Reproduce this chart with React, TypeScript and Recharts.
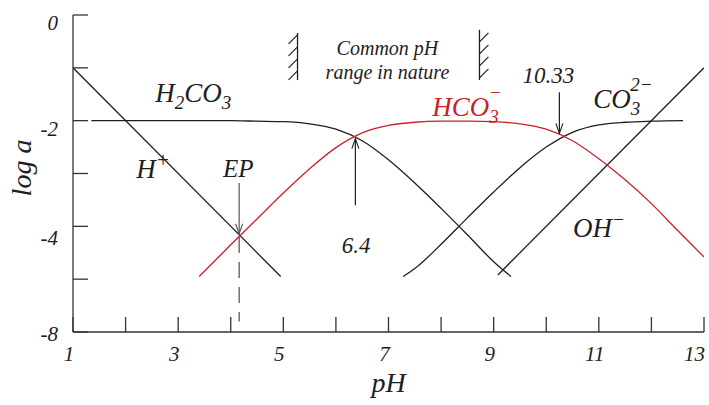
import React from 'react'
import { LineChart, Line, XAxis, YAxis, ReferenceLine, ReferenceDot } from 'recharts'

// Diagrama log a – pH del sistema carbonatado (CT = 10^-2).
// Curvas; los textos van anclados en coordenadas de datos.

const FONT = '"Liberation Serif", "DejaVu Serif", serif'
const INK = '#1e1e1e'
const GREY = '#5a5a5a'
const RED = '#cc1f2a'

// H+ y OH− son rectas
const hPh = [1, 4.95]
const hLog = [-1, -4.95]
const ohPh = [9.08, 13]
const ohLog = [-4.92, -1]

const h2co3Ph = [1.35, 2, 3, 4, 4.5, 5, 5.5, 6, 6.5, 7, 7.5, 8, 8.5, 9, 9.33]
const h2co3Log = [-2.0, -2.0, -2.0, -2.0, -2.01, -2.02, -2.06, -2.16, -2.38, -2.74, -3.18, -3.66, -4.16, -4.67, -4.95]

const hco3Ph = [3.4, 4, 4.5, 5, 5.5, 6, 6.5, 7, 7.5, 8, 8.5, 9, 9.5, 10, 10.5, 11, 11.5, 12, 12.5, 13]
const hco3Log = [-4.95, -4.35, -3.86, -3.37, -2.91, -2.51, -2.23, -2.09, -2.03, -2.01, -2.01, -2.02, -2.06, -2.16, -2.38, -2.72, -3.12, -3.57, -4.08, -4.58]

const co3Ph = [7.28, 7.5, 8, 8.5, 9, 9.5, 10, 10.5, 11, 11.5, 12, 12.6]
const co3Log = [-4.95, -4.8, -4.34, -3.84, -3.35, -2.89, -2.5, -2.22, -2.08, -2.03, -2.01, -2.0]

const xTicks = [1, 2, 3, 4, 5, 6, 7, 8, 9, 10, 11, 12, 13]
const xLabelled = [1, 3, 5, 7, 9, 11, 13]
const yTicks = [0, -1, -2, -3, -4, -5, -6]
// el original rotula el borde inferior como "-8"
const yTickText = ['0', '', '-2', '', '-4', '', '-8']
// desplazamiento vertical de cada rótulo, como en el original
const yTickDy = [15, 0, 15, 0, 19, 0, 9]

const pts = (ph: number[], v: number[]) => ph.map((x, i) => ({ ph: x, v: v[i] }))

const txt = { fontFamily: FONT, fontStyle: 'italic' as const, fill: INK }

function XTick({ x, y, payload }: any) {
  const v = payload.value
  if (!xLabelled.includes(v)) return <g />
  const last = v === 13
  return (
    <text x={last ? x + 1 : x - 4} y={y} dy="0.71em" textAnchor={last ? 'end' : 'middle'} fontSize={21} {...txt}>{v}</text>
  )
}

function YTick({ x, y, payload }: any) {
  const i = yTicks.indexOf(payload.value)
  const s = yTickText[i]
  if (!s) return <g />
  return <text x={x} y={y} dy={yTickDy[i]} textAnchor="end" fontSize={21} {...txt}>{s}</text>
}

function arrow(color: string) {
  return (p: any) => {
    const { x1, y1, x2, y2 } = p
    const d = Math.sign(y2 - y1)
    return (
      <g>
        <line x1={x1} y1={y1} x2={x2} y2={y2} stroke={color} strokeWidth={1.2} />
        <path d={`M${x2 - 3.5},${y2 - d * 10} L${x2},${y2} L${x2 + 3.5},${y2 - d * 10}`} fill="none" stroke={color} strokeWidth={1.1} />
      </g>
    )
  }
}

function bracket(side: number) {
  return (p: any) => {
    const { x1, y1, y2 } = p
    const top = Math.min(y1, y2)
    const bot = Math.max(y1, y2)
    const marks = [0, 1, 2, 3].map(i => {
      const y = side < 0 ? top + 2 + i * 12 : top + 12 + i * 12
      return <line key={i} x1={x1} y1={y} x2={x1 + side * 9} y2={y + (side < 0 ? 9 : -9)} stroke={INK} strokeWidth={1.1} />
    })
    return (
      <g>
        <line x1={x1} y1={top} x2={x1} y2={bot} stroke={INK} strokeWidth={1.3} />
        {marks}
      </g>
    )
  }
}

const label = (render: (x: number, y: number) => React.ReactNode) => (p: any) => <g>{render(p.cx, p.cy)}</g>

export default function App() {
  return (
    <div style={{ position: 'fixed', left: 0, top: 0, background: '#fff' }}>
      <LineChart width={709} height={405} margin={{ top: 15, right: 5, bottom: 33, left: 13 }}>
        <XAxis dataKey="ph" type="number" domain={[1, 13]} allowDataOverflow ticks={xTicks} interval={0}
          height={40} tickSize={-15} tickMargin={29} stroke="#333" strokeWidth={1.3}
          tickLine={{ stroke: '#333' }} tick={<XTick />}
          label={{ content: (p: any) => {
            const vb = p.viewBox
            return <text x={vb.x + vb.width / 2} y={vb.y + 60} textAnchor="middle" fontSize={28} {...txt}>pH</text>
          } }} />
        <XAxis xAxisId="top" orientation="top" dataKey="ph" type="number" domain={[1, 13]} allowDataOverflow
          ticks={[2, 3, 4, 5, 6, 7, 8, 9, 10, 11, 12]} interval={0} height={0} tickSize={-15}
          stroke="#333" strokeWidth={1.3} tick={false} />
        <YAxis type="number" domain={[-6, 0]} allowDataOverflow ticks={yTicks} interval={0} width={60}
          tickSize={-15} tickMargin={30} stroke="#333" strokeWidth={1.3} tick={<YTick />}
          label={{ content: () => {
            const cx = 31
            const cy = 168
            return <text x={cx} y={cy} textAnchor="middle" transform={`rotate(-90 ${cx} ${cy})`} fontSize={28} {...txt}>log a</text>
          } }} />
        <YAxis yAxisId="r" orientation="right" type="number" domain={[-6, 0]} allowDataOverflow ticks={yTicks}
          interval={0} width={0} tickSize={-15} stroke="#333" strokeWidth={1.3} tick={false} />

        <Line data={pts(hPh, hLog)} dataKey="v" type="linear" stroke={INK} strokeWidth={1.3} dot={false} isAnimationActive={false} />
        <Line data={pts(ohPh, ohLog)} dataKey="v" type="linear" stroke={INK} strokeWidth={1.3} dot={false} isAnimationActive={false} />
        <Line data={pts(h2co3Ph, h2co3Log)} dataKey="v" type="monotone" stroke={INK} strokeWidth={1.3} dot={false} isAnimationActive={false} />
        <Line data={pts(co3Ph, co3Log)} dataKey="v" type="monotone" stroke={INK} strokeWidth={1.3} dot={false} isAnimationActive={false} />
        <Line data={pts(hco3Ph, hco3Log)} dataKey="v" type="monotone" stroke={RED} strokeWidth={1.3} dot={false} isAnimationActive={false} />

        {/* flechas */}
        <ReferenceLine segment={[{ x: 4.16, y: -3.18 }, { x: 4.16, y: -4.14 }]} ifOverflow="visible" shape={arrow(GREY)} />
        <ReferenceLine segment={[{ x: 4.16, y: -4.2 }, { x: 4.16, y: -5.8 }]} ifOverflow="visible" stroke={GREY} strokeWidth={1.3} strokeDasharray="16 9" />
        <ReferenceLine segment={[{ x: 6.37, y: -3.6 }, { x: 6.37, y: -2.34 }]} ifOverflow="visible" shape={arrow(INK)} />
        <ReferenceLine segment={[{ x: 10.25, y: -1.46 }, { x: 10.25, y: -2.24 }]} ifOverflow="visible" shape={arrow(INK)} />

        {/* rango de pH común */}
        <ReferenceLine segment={[{ x: 5.27, y: -0.34 }, { x: 5.27, y: -1.23 }]} ifOverflow="visible" shape={bracket(-1)} />
        <ReferenceLine segment={[{ x: 8.73, y: -0.28 }, { x: 8.73, y: -1.23 }]} ifOverflow="visible" shape={bracket(1)} />

        {/* textos */}
        <ReferenceDot x={6.98} y={-0.757} r={0} ifOverflow="visible" shape={label((x, y) =>
          <text x={x} y={y} textAnchor="middle" fontSize={20} {...txt}>Common pH</text>)} />
        <ReferenceDot x={6.98} y={-1.21} r={0} ifOverflow="visible" shape={label((x, y) =>
          <text x={x} y={y} textAnchor="middle" fontSize={20} {...txt}>range in nature</text>)} />
        <ReferenceDot x={2.565} y={-1.647} r={0} ifOverflow="visible" shape={label((x, y) =>
          <text x={x} y={y} fontSize={27} {...txt}>H<tspan fontSize={19} dy={7}>2</tspan><tspan dy={-7}>CO</tspan><tspan fontSize={19} dy={7}>3</tspan></text>)} />
        <ReferenceDot x={7.83} y={-1.912} r={0} ifOverflow="visible" shape={label((x, y) =>
          <text x={x} y={y} fontSize={27} {...txt} fill={RED}>HCO<tspan fontSize={19} dy={7}>3</tspan><tspan fontSize={19} dx={-10} dy={-24}>−</tspan></text>)} />
        <ReferenceDot x={10.892} y={-1.76} r={0} ifOverflow="visible" shape={label((x, y) =>
          <text x={x} y={y} fontSize={27} {...txt}>CO<tspan fontSize={19} dy={7}>3</tspan><tspan fontSize={19} dx={-10} dy={-24}>2−</tspan></text>)} />
        <ReferenceDot x={2.203} y={-3.085} r={0} ifOverflow="visible" shape={label((x, y) =>
          <text x={x} y={y} fontSize={27} {...txt}>H<tspan fontSize={21} dy={-11}>+</tspan></text>)} />
        <ReferenceDot x={10.511} y={-4.202} r={0} ifOverflow="visible" shape={label((x, y) =>
          <text x={x} y={y} fontSize={27} {...txt}>OH<tspan fontSize={19} dy={-11}>−</tspan></text>)} />
        <ReferenceDot x={4.142} y={-3.066} r={0} ifOverflow="visible" shape={label((x, y) =>
          <text x={x} y={y} textAnchor="middle" fontSize={25} {...txt}>EP</text>)} />
        <ReferenceDot x={6.386} y={-4.505} r={0} ifOverflow="visible" shape={label((x, y) =>
          <text x={x} y={y} textAnchor="middle" fontSize={23} {...txt}>6.4</text>)} />
        <ReferenceDot x={10.04} y={-1.287} r={0} ifOverflow="visible" shape={label((x, y) =>
          <text x={x} y={y} textAnchor="middle" fontSize={23} {...txt}>10.33</text>)} />
      </LineChart>
    </div>
  )
}
